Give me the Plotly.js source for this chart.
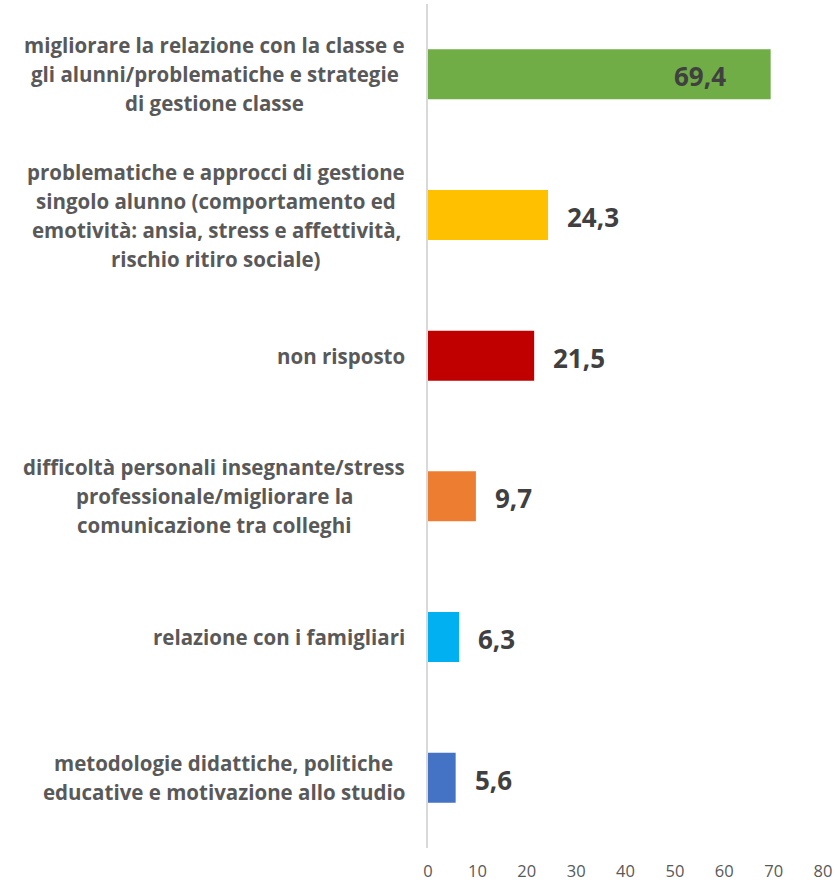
<!DOCTYPE html>
<html><head><meta charset="utf-8">
<script src="https://cdn.plot.ly/plotly-3.0.1.min.js"></script>
<style>body{margin:0;background:#fff}#c{width:838px;height:884px}</style>
</head><body><div id="c"></div>
<script>
const categories = [
  "migliorare la relazione con la classe e<br>gli alunni/problematiche e strategie<br>di gestione classe",
  "problematiche e approcci di gestione<br>singolo alunno (comportamento ed<br>emotività: ansia, stress e affettività,<br>rischio ritiro sociale)",
  "non risposto",
  "difficoltà personali insegnante/stress<br>professionale/migliorare la<br>comunicazione tra colleghi",
  "relazione con i famigliari",
  "metodologie didattiche, politiche<br>educative e motivazione allo studio"
];
const values = [69.4, 24.3, 21.5, 9.7, 6.3, 5.6];
const barColors = ["#70ad47", "#ffc000", "#c00000", "#ed7d31", "#00b0f0", "#4472c4"];
const xTicks = [0, 10, 20, 30, 40, 50, 60, 70, 80];

const ids = categories.map((c, i) => "c" + i);

const trace = {
  type: "bar", orientation: "h",
  x: values, y: ids,
  marker: {color: barColors},
  hoverinfo: "none"
};

const LABEL_SIZE = 20.5;
const LABEL_FONT = {family: "Open Sans", size: LABEL_SIZE, color: "#595959", weight: 700};
const LINE_H = 29;
const cv = document.createElement("canvas").getContext("2d");
cv.font = "700 " + LABEL_SIZE + "px 'Open Sans'";

const annotations = [];
categories.forEach((c, i) => {
  const lines = c.split("<br>");
  const maxW = Math.max(...lines.map(l => cv.measureText(l).width));
  lines.forEach((l, j) => {
    annotations.push({
      xref: "paper", x: 0, yref: "y", y: ids[i],
      text: l, showarrow: false, xanchor: "center", yanchor: "middle",
      xshift: -23 - maxW / 2,
      yshift: -(j - (lines.length - 1) / 2) * LINE_H,
      font: LABEL_FONT
    });
  });
  const inside = values[i] > 50;
  annotations.push({
    xref: "x", x: values[i], yref: "y", y: ids[i],
    text: values[i].toFixed(1).replace(".", ","), showarrow: false,
    xanchor: inside ? "right" : "left", yanchor: "middle",
    xshift: inside ? -43 : 17, yshift: -2,
    font: {family: "Open Sans", size: 26, color: "#404040", weight: 700}
  });
});

const layout = {
  width: 838, height: 884,
  margin: {l: 428, r: 15, t: 4, b: 36},
  paper_bgcolor: "#fff", plot_bgcolor: "#fff",
  bargap: 0.644,
  showlegend: false,
  xaxis: {
    range: [0, 80], tickvals: xTicks, ticktext: xTicks.map(String),
    showgrid: false, zeroline: false, showline: false, ticks: "",
    ticklabelstandoff: 11,
    tickfont: {family: "Open Sans", size: 16.5, color: "#595959"},
    fixedrange: true
  },
  yaxis: {
    type: "category", autorange: "reversed",
    showticklabels: false, showgrid: false, zeroline: false,
    showline: true, linecolor: "#d9d9d9", linewidth: 2, ticks: "",
    fixedrange: true
  },
  annotations: annotations
};

Plotly.newPlot("c", [trace], layout, {displayModeBar: false, staticPlot: true});
</script>
</body></html>
